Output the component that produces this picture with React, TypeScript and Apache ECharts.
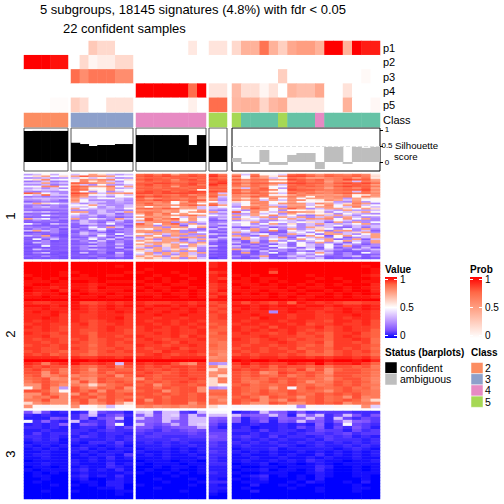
import React, { useEffect, useRef } from "react";
import * as echarts from "echarts";

const titleLine1 = "5 subgroups, 18145 signatures (4.8%) with fdr < 0.05";
const titleLine2 = "22 confident samples";
const annotationNames = ["p1", "p2", "p3", "p4", "p5"];
const classLabel = ["Class"];

const p1 = [[0,0,0,0,0],[0,0,.28,.2,.2,0,0],[0,0,0,0,0,0,.12,0],[.14,.14],[.2,.4,.4,.7,.4,.25,.45,.5,.5,.4,1,1,.4,1,.93,.93]];
const p2 = [[1,1,1,.96,.96],[0,.2,.05,.1,.1,.2,.2],[0,0,0,0,0,0,0,0],[0,0],[0,0,0,0,0,0,0,0,0,0,0,0,0,0,0,0]];
const p3 = [[0,0,0,0,0],[.72,.58,.68,.68,.68,.58,.58],[0,0,0,0,0,0,0,0],[0,0],[0,0,0,0,0,.25,0,0,0,0,0,0,0,0,.03,0]];
const p4 = [[0,0,0,0,0],[0,0,0,0,0,0,0],[1,1,1,1,1,1,.72,1],[.14,.14],[.35,.17,.17,.05,.15,0,.38,.33,.33,.45,0,0,.15,0,0,0]];
const p5 = [[0,0,0,.02,.02],[.25,.18,0,0,.15,.15,.15],[0,0,0,0,0,0,.08,0],[.72,.72],[.37,.4,.4,.22,.37,.42,.12,.12,.12,.12,0,0,.4,0,0,.04]];
const probRows = [p1, p2, p3, p4, p5];

const classes = [[2,2,2,2,2],[3,3,3,3,3,3,3],[4,4,4,4,4,4,4,4],[5,5],[5,1,1,1,1,5,1,1,1,4,1,1,1,1,1,1]];
const classColors: Record<number, string> = { 1: "#66C2A5", 2: "#FC8D62", 3: "#8DA0CB", 4: "#E78AC3", 5: "#A6D854" };

const silhouette = [
  [.97,.97,.97,.97,.97],
  [.6,.56,.5,.53,.53,.56,.56],
  [.84,.84,.84,.84,.84,.84,.53,.84],
  [.5,.5],
  [.125,-.06,-.06,.375,-.09,-.09,.22,.28,.28,-.22,.47,.47,-.06,.47,.44,.47],
];
const silhouetteTicks = [0, 0.5, 1];
const statusColors = ["#000000", "#bebebe"];
const panelStatus = [0, 0, 0, 0, 1];

// Heatmap cells as letters, panels separated by spaces. Each group has its own reading of the letters.
const group1 = [
"hjnim jmqpjhj uvtvquvu wt qjtnmkuvtrutsuso",
"mpqmp qvrsqmn vwvwvvwv xv vmvqorwwvtvuuvtp",
"ghjgh jnjmjgh uvvuvvuv vu rnsqjmutqqstuquo",
"npslm osqssmp vwvvsvwu wv vsuuqqwvuvstwvvq",
"fgjfg msoqjgm tvuvtuvv vw sqtsnntvtuqtsjtr",
"jjqhj vusqqjm vvwwvvwv wx vtvvtswwvvsvwvwu",
"ggifg qjgmhgj vwuvuvwt xv uqutqjuvutstuvuq",
"mnssn vuqqtnq uvuvqvuv vu tsusmmvuvusvwvvt",
"hjgjg usmnqhj vvuvvuvv vv qjtvnhvuttqtusvq",
"jljjm vuonqmm uvvuvvun uu vtuvsnwvvutuvvws",
"gfhgg smgmgjm vwvwuvww wv uqusnmtutrsttjuq",
"vsmjg wvqjqqs wwvwwwwv uj vuvuqjvsutsuvtus",
"mjujj usmmjmj utvutvsu uq sqsumnqtrqrqsnpr",
"fgfgf tqhjgmm wvwvuvvs vj ssvtqqtrnsrstntq",
"ijjij qjjmnjh uqsutsuq qh qpqmsmrmqqqrhqpn",
"ggigd smgggjg vuwvvuvv sg tqtjqjssnosqjqmn",
"dfgfe qmjjgih tssunqvq mj pnrsmnqmnmphgrhm",
"jqpmj jgjgghg tvrsmtsm tj jmtsmrsrjsqjptqg",
"fgegf mnqjggj sutsrtvs vq inqsjjqqjosmqrjm",
"ehjge kjmgjgj qnqrmqrj jm grtrqgrsnqrmjtnj",
"ggggg qmjhihn uvtvuqqj ji mqvsmqvrgjqqpmqp",
"eddde gggjgfg rrsqrmnr gf jgrqmgmnpnjhqhhj",
"jhjgf rqgjgjq tutqsnqt qj vnsmjqtrqogmjpqn",
"dedcd mjgjjdg ququmqnm hg ghqjmgqmpnpgnjhg",
"gfmgf jgjfigh mtqsrsuq mj qjqmsjngfqjqjgmn",
"cddcd hggdgcf qrsqnjqj gh gmjqgqjqgjqgqjgh",
"qjmfg qgnjgqj mvqtvmrm ej qpmjqmqjrqsmrmqg",
"dgegc ejgfdje qvsqrnqm cd gjjggjjgjjhmjggg",
"ccdcc gjgdjgd jqstgqgj fg mnqgnmjnpjdqgqgm",
"mgcjg djjgmfg vqmsvhqg gj jmgmqgpgjqjhjmqg",
"dccdc dcgfdgc srgqqdmp gd jnjgjjmgjgjngjhj",
"gfgdg cgmgqje qqqgrqmq cj dcgjcgjgqpjddjej",
"cgdgb gdjmfdg pmqrnpgd jd jgqgmgqgjpmgmgqg",
"jqjgd dfcjcgg rqgqsgfg eg jmrgsdnjmqfqrgjd",
"bcdgc cjgdcdg qsrqqgrm cc qjgcdcjmgmqgjpqg",
"dfcdb fjgjdmg mjqjqqgg jg gfjmdgqjmfqqjgmq",
"jgqcb egdmgcj qrngrghq ec qgdqjfgdqmcnqmjq",
"cdggc cdjgcjd gpqqjqqg cj jqmgjqdmjqgndgjq",
"cmcjd gfmfjdg jqgqrdjq jf dqjgmjgqmjqdgqcj",
"dcgbc cgdjdgd qpjqqgjg gc gcjdqgmgjmqmqjgq",
"cjgcd dfjgcgd mqrqjqgq db jcqdjnemgqgjdmfq",
"bcgcc cdcgdjc qjqpqmqp cc dgdgcjdnjgmcjgcg",
"dcmcd egjgdfd pqgpqgqj jc jdgcmjdnjgmgqdgg",
"bcbcc cgcdcjb jgqjqjpg cb gcdgcmjdjcmcgdjc",
"cjgcd dgjgdcg qpqjpqmg gc qjgdjgdjmfjgdjgj",
"bcbcc bdcfcdc pjqgqgqf bb cgbjdgcgdjgcbcdg",
"cgjcb cjdgbjc mqgqjqjq ec dqcgmdgmjqjdgcmg",
"bcbbc cbcdcgb jqjqgqjg bb cdcgbcgjgmgcgcbd",
"dcgcb cdfcdgc qpqgpqpg cb gcgqcgjgjgcdgjcg",
"bcbcb bcbfbcb pqpjqgqj ab cbcjcbgjgjbcbdbc",
];

const group2 = [
"zzzzz zzzzzzz zzzzzzzz xy zzzzzzzzzzzzzzzz",
"zzzzz zzzzzyz zzzzzzzz xy zzzzzzzzzzzzzzyz",
"zzzzz zzzzzzz zyzzzzzz yy zzzzyzzzzzzzzzzy",
"zzzzy yzzzzzy yzzzyzzz wx zzzzvzzzzzzzzzzy",
"yzzzy zyzzyyz zzyzzyzz xy yzyzzzzzyzzzzzyx",
"zyzyz yyyzzzz zyzyzzyz xw zyzyyzzzzyzyzzzy",
"yyyzy zzyzyyy yzzyzyzz xy yyzyzyzzyzzzyzyy",
"yzzyy yyxyzzz zyyzyyzz wx zyyzyzzyzyzyzzzx",
"zyyxy yyxzyyy yzyyzzyz wx yzyyyzyzyyzzyzyx",
"zyyzx zyxyyyz zyzyzyzy wy yyyzyyzyzzyzyzzx",
"yxyyz yzyyzyy yyyzyyzy xw zyzyzyyzyyzyzyzy",
"yyzyy zyyzyyz zzyzzyzy wy yyyyzyzyyzzyzyyx",
"zzzzz zzzzzzz zzzzzzzz yy zzzzzzzyzzzzzzzz",
"xwwxx yvvwxwx xwwwxxwx vw xvxwvxuyxwxwvvww",
"yyyxy yxwxyxy yxyyxyxy wv yyxyxyyxyyxyxxyx",
"xxyxx yxwxyxx xyxxyxyx vw xyxyxxyyxxwxyxyx",
"xyxyx xxwxxyx yxxyxxyx wv yxxxgxyxxwxxyxxw",
"xxxyw xwwxxxw xxyxxyxx vw xxyxxxwxxwwxxyxw",
"xxyxw xwwxxyw xxwxxwxx vw xxwyxxwxxwwxwxxw",
"xwxxw xwvwxxw xwxxwxxw vv xwxxxwxxwwvxxwxv",
"wxxww wxvwwxw xxwxwxwx uv wxxwxxwxvwwxwwxv",
"xwxwv wwvwxww wxxwxwxw vu xwwxvxxwwxvwxwwv",
"wwxwv wvvwxwv wxwwxwwx uu xwxwxwxwvwvwxwwu",
"xwwvw wvuwwwv wwxwxwwx tv wxwwvwxvwvuwwxvu",
"wwxvv wwuwwvw xwwwxvxw uu wwwxwwwvvwuwxwvu",
"wvwwv vwuvwwv wxwvwwwx tu xwvwxwvwvvuwwxwt",
"wwvwv wvuvwvw wwxwvxww ts wwvwwxwvvwtwwvwt",
"vwwvw vvtvwvv xwwvwwxw us wvwwvwwvuvtwwwvu",
"wwvvw wvuvvwv wvwwxvww ts vwwvwvwuvvuwvwvt",
"vwvvu vvtvwvw wwvxwwxw sr wvwvwwvwuvtvwvwu",
"wvwuv vutvvvv vwxwvwwv tq vwvwwvwvuutvwvvt",
"xxxxw xwwxxwx xxxwxxxx qr xxwxxwxxwxwxxwxv",
"zzzzz zzyzzzz zzzzzzzz ss zyzzyzzzzzyzzyzx",
"xwswx ywwxwjw xwxxvsqw gh wywxwwyxwzwxxywu",
"wvwvv vutvwsv wvwvwwvw qp vwvwuwvvuvtvvuvs",
"vwuvs vuqvvuu wvvwvwvw pq wvwvuvuwsvquvvut",
"vvqvs vtsvtvv vwvuvwvv qr vuvqswvuvuqvvvus",
"uvqsu rtsuvqu wvuvvwvv qp vuvutvsuvtsvvuus",
"tuvqr urqvuut qvuvvvwv ps vtutvuvuutquvvtr",
"suvts qvqvuvu vuvuvwvu ps vtsuvtvuqtsvuvur",
"qqvtq sqpqtuv uvquvvuv pn uvtutuvtustvuvts",
"nqvqh vsqutvq vvtvuvvq gh vutuqumtvutuvtur",
"vvuqn vtvqvts uvvquvvq tt vutvtuvtutquvuts",
"qqvsq qvsuvuv vvuvuvuv uu vtuvutvutvuvuvts",
"qtsvq vuvsvut uvvtvvuv rs uvtqvuuquvtuqvrs",
"ssvqq uvquvtv vqvuvvuv tq vuvqtqvtuvtuvuqp",
"pqsqq svqsvqp vuvuvvqu ts vtqqvuqquvuvqtsr",
"qnmnn qmnpjmn rsqrsqrs pm mnmmnnmgnmmnnmqk",
];

const group3 = [
"gjfcd cdkfeec jkfjjedj mm cdejhgdgdeeeeddd",
"dcdcc dhjdfhd hjgjkgjh jj jghhjhcjhjdfjgdg",
"cccgf dhcfgjc jhgjigjj hg hcfgdhghjhdjfdfe",
"mdhdc jdedgec hhgjhgjj gf hcehcgfjfgdhjhge",
"cdcdh cgfdgmc jgfhigjk fd ccdccdcdchcemfed",
"ddcdc cddcfdf ggefghhi ec cdbccdcfdgcfdgec",
"ccdcc ddcdedd fedfefgf ee ddcecddcdfeecfde",
"cecdd dcdcddc edeeeefe ff ccdcddcdeedefdee",
"ddcdc cedcdcd deedddee gf dedcecddcdedecdc",
"cdcdb dcccdcd ddddeddd ff cdcdcdccdcedddcd",
"bcccb cbddcec cdcdcdcc ed dcdcdccdcdcdcdcd",
"cbcbc bccbcdb cccdccdc ed cdcccdcbcdccdcdc",
"bcbcb cdbcbcc bcccbcbc dd bcccdbcccccbcdcb",
"bbcbb cbcbccb cbbcbcbc ed cbcbcbbcbcbcbcbc",
"bccbb bcbccbe bcbcbbcb dd bcbbcbcbbdbcbcbc",
"bbcbb bbcbdbc bbbcbbbc dc bbcbbcbbcbcbbcbb",
"abbbb cbcbcbb abbbabba dc bcbbcbcbdcbbabbc",
"bbcbb cbbbdbc babbbabb dd abbcabbabcbabbbb",
"abbab bcbbdcb aababbab cc baabbabbbdcaabab",
"babbb cdbcbdb abaabaab cc abbcabbabdbaabab",
"ababa bcbbbbc baababab dc baabbbaabcbaabbb",
"abbaa cdbcbdb aaaabaaa cc abcdababacbaabba",
"aabaa bcaabcb aabaaaba cb babcaaabacaaaaba",
"abaaa abbaccb aaabaaab dd abbbaabacbaabaca",
"aaaba babacca baaaaaba cb aacaababaaaaabaa",
"aaaaa aaabbca aabaaaaa cc abaaaabaabaaabba",
"aabaa baaaabb aaaaabaa cb aacaaaaaabaaabaa",
"aaaaa aaaaaba aaaaaaaa ba aaaaaaaaaaaaaaaa",
"aaaaa aaaaaaa aaaaaaaa aa aaaaaaaaaaaaaaaa",
];

const rowGroupNames = ["1", "2", "3"];
const valueLegendTicks = ["1", "0.5", "0"];
const statusLegend = ["confident", "ambiguous"];
const classLegend = [2, 3, 4, 5];

const valueRamp = ["#0000ff", "#7E51FF", "#B28BFF", "#DCC4FF", "#ffffff", "#FFCFC0", "#FF9E81", "#FF6846", "#ff0000"];
const probRamp = ["#ffffff", "#FFCFC0", "#FF9E81", "#FF6846", "#ff0000"];

const FONT = "'Liberation Sans', Arial, sans-serif";
const panels = [
  { left: 24, right: 68 },
  { left: 71, right: 133 },
  { left: 136, right: 206 },
  { left: 209, right: 227 },
  { left: 232, right: 380 },
];
const bands = {
  anno: { top: 41, bottom: 112 },
  cls: { top: 113, bottom: 127 },
  sil: { top: 128, bottom: 171 },
  g1: { top: 174, bottom: 259 },
  g2: { top: 262, bottom: 408 },
  g3: { top: 411, bottom: 499 },
};

const letter = (ch: string) => (ch.charCodeAt(0) - 97) / 25;
const readGroup1 = (ch: string) => {
  const v = letter(ch);
  if (v < 0.2) return 0.1 + v * 0.5;
  return v > 0.6 ? 1 - (1 - v) * 0.7 : v;
};
const readGroup2 = (ch: string) => {
  const v = letter(ch);
  return v > 0.6 ? 1 - (1 - v) * 0.6 : v;
};
const readGroup3 = (ch: string) => {
  const v = letter(ch);
  return v < 0.32 ? v * 0.55 : v;
};

function buildOption() {
  const grid: any[] = [];
  const xAxis: any[] = [];
  const yAxis: any[] = [];
  const series: any[] = [];
  const valueSeries: number[] = [];
  const probSeries: number[] = [];
  const classSeries: number[] = [];

  const addGrid = (pi: number, band: { top: number; bottom: number }, extra: any = {}) => {
    const pn = panels[pi];
    const idx = grid.length;
    grid.push({
      left: pn.left,
      top: band.top,
      width: pn.right - pn.left,
      height: band.bottom - band.top,
      containLabel: false,
      ...extra,
    });
    return idx;
  };

  const catX = (idx: number, n: number) =>
    xAxis.push({
      type: "category",
      gridIndex: idx,
      data: Array.from({ length: n }, (_, i) => String(i)),
      show: false,
    });
  const heat = (idx: number, data: number[][]) => ({
    type: "heatmap",
    xAxisIndex: idx,
    yAxisIndex: idx,
    data,
    silent: true,
    progressive: 0,
    itemStyle: { borderWidth: 0 },
  });

  panels.forEach((pn, pi) => {
    const n = classes[pi].length;
    // probability annotation
    let g = addGrid(pi, bands.anno);
    catX(g, n);
    yAxis.push({
      type: "category",
      gridIndex: g,
      inverse: true,
      data: annotationNames,
      position: "right",
      axisLine: { show: false },
      axisTick: { show: false },
      axisLabel: { show: pi === 4, interval: 0, fontFamily: FONT, fontSize: 11, color: "#000", margin: 3 },
    });
    const annoData: number[][] = [];
    probRows.forEach((row, ri) => row[pi].forEach((v, c) => annoData.push([c, ri, v])));
    probSeries.push(series.length);
    series.push(heat(g, annoData));

    // class annotation
    g = addGrid(pi, bands.cls);
    catX(g, n);
    yAxis.push({
      type: "category",
      gridIndex: g,
      data: classLabel,
      position: "right",
      axisLine: { show: false },
      axisTick: { show: false },
      axisLabel: { show: pi === 4, interval: 0, fontFamily: FONT, fontSize: 11, color: "#000", margin: 3 },
    });
    classSeries.push(series.length);
    series.push(heat(g, classes[pi].map((v, c) => [c, 0, v])));

    // silhouette bars
    g = addGrid(pi, bands.sil, { show: true, borderColor: pi === 4 ? "#000" : "#555", borderWidth: 1, backgroundColor: "transparent" });
    catX(g, n);
    yAxis.push({
      type: "value",
      gridIndex: g,
      min: -0.28,
      max: 1.06,
      position: "right",
      show: pi === 4,
      splitLine: { show: false },
      axisLine: { show: false },
      axisTick: { show: pi === 4, length: 3, customValues: silhouetteTicks, lineStyle: { color: "#000" } },
      axisLabel: {
        show: pi === 4,
        customValues: silhouetteTicks,
        fontFamily: FONT,
        fontSize: 8,
        color: "#000",
        margin: 7,
        align: "center",
        formatter: (v: number) => String(v),
      },
    });
    const barColor = statusColors[panelStatus[pi]];
    series.push({
      type: "bar",
      xAxisIndex: g,
      yAxisIndex: g,
      barWidth: (pn.right - pn.left) / n + 0.7,
      barGap: "-100%",
      silent: true,
      data: silhouette[pi],
      itemStyle: { color: barColor },
      markLine:
        pi === 4
          ? {
              silent: true,
              symbol: "none",
              label: { show: false },
              lineStyle: { type: "dashed", color: "#dedede", width: 1 },
              data: [{ yAxis: 0.5 }],
            }
          : undefined,
    });

    // expression heatmaps
    const groups = [
      { rows: group1, band: bands.g1, read: readGroup1 },
      { rows: group2, band: bands.g2, read: readGroup2 },
      { rows: group3, band: bands.g3, read: readGroup3 },
    ];
    groups.forEach(({ rows, band, read }) => {
      const gi = addGrid(pi, band);
      catX(gi, n);
      yAxis.push({
        type: "category",
        gridIndex: gi,
        inverse: true,
        data: rows.map((_, i) => String(i)),
        show: false,
      });
      const data: number[][] = [];
      rows.forEach((r, ri) => {
        const cells = r.split(" ")[pi];
        for (let c = 0; c < cells.length; c++) data.push([c, ri, read(cells[c])]);
      });
      valueSeries.push(series.length);
      series.push(heat(gi, data));
    });
  });

  const txt = (text: string, x: number, y: number, size: number, extra: any = {}) => ({
    type: "text",
    x,
    y,
    silent: true,
    style: { text, fill: "#000", font: `${extra.bold ? "bold " : ""}${size}px ${FONT}`, textVerticalAlign: "middle", textAlign: extra.align || "left" },
    ...(extra.rotation ? { rotation: extra.rotation } : {}),
  });

  const stopsOf = (ramp: string[]) =>
    ramp.map((color, i) => ({ offset: 1 - i / (ramp.length - 1), color })).reverse();

  const colourBar = (x: number, ramp: string[]) => {
    const top = 277;
    const h = 61;
    const w = 12;
    const tickYs = [279, 307, 335];
    const items: any[] = [
      {
        type: "rect",
        shape: { x, y: top, width: w, height: h },
        silent: true,
        style: { fill: new echarts.graphic.LinearGradient(0, 0, 0, 1, stopsOf(ramp)) },
      },
    ];
    tickYs.forEach((ty) => {
      items.push({ type: "line", silent: true, shape: { x1: x, y1: ty + 0.5, x2: x + 3, y2: ty + 0.5 }, style: { stroke: "#ffffff", lineWidth: 1 } });
      items.push({ type: "line", silent: true, shape: { x1: x + w - 3, y1: ty + 0.5, x2: x + w, y2: ty + 0.5 }, style: { stroke: "#ffffff", lineWidth: 1 } });
    });
    valueLegendTicks.forEach((t, i) => items.push(txt(t, x + 15, tickYs[i], 10)));
    return items;
  };

  const graphicElements: any[] = [
    txt(titleLine1, 40, 9.5, 13),
    txt(titleLine2, 63, 28.5, 13),
    txt("Silhouette", 395, 145, 9.7),
    txt("score", 394, 156, 9.7),
    txt(rowGroupNames[0], 10, 216, 13.2, { rotation: Math.PI / 2, align: "center" }),
    txt(rowGroupNames[1], 10, 334, 13.2, { rotation: Math.PI / 2, align: "center" }),
    txt(rowGroupNames[2], 10, 454, 13.2, { rotation: Math.PI / 2, align: "center" }),
    txt("Value", 385, 269, 10, { bold: true }),
    txt("Prob", 470, 269, 10, { bold: true }),
    ...colourBar(385, valueRamp),
    ...colourBar(470, probRamp),
    txt("Status (barplots)", 385, 352, 10, { bold: true }),
    txt("Class", 471, 352, 10, { bold: true }),
  ];
  statusLegend.forEach((s, i) => {
    graphicElements.push({
      type: "rect",
      silent: true,
      shape: { x: 385, y: 362 + i * 11.5, width: 12, height: 11.5 },
      style: { fill: statusColors[i], stroke: "#fff", lineWidth: 0.5 },
    });
    graphicElements.push(txt(s, 400, 367.5 + i * 11.5, 10.5));
  });
  classLegend.forEach((c, i) => {
    graphicElements.push({
      type: "rect",
      silent: true,
      shape: { x: 471, y: 362.5 + i * 11.2, width: 12, height: 11.2 },
      style: { fill: classColors[c], stroke: "#fff", lineWidth: 0.5 },
    });
    graphicElements.push(txt(String(c), 485, 367.5 + i * 11.4, 10.5));
  });

  return {
    animation: false,
    backgroundColor: "#ffffff",
    textStyle: { fontFamily: FONT },
    grid,
    xAxis,
    yAxis,
    visualMap: [
      { type: "continuous", show: false, min: 0, max: 1, dimension: 2, seriesIndex: valueSeries, inRange: { color: valueRamp } },
      { type: "continuous", show: false, min: 0, max: 1, dimension: 2, seriesIndex: probSeries, inRange: { color: probRamp } },
      {
        type: "piecewise",
        show: false,
        dimension: 2,
        seriesIndex: classSeries,
        pieces: Object.keys(classColors).map((k) => ({ value: Number(k), color: classColors[Number(k)] })),
      },
    ],
    series,
    graphic: { elements: graphicElements },
  };
}

export default function App() {
  const ref = useRef<HTMLDivElement>(null);
  useEffect(() => {
    document.body.style.margin = "0";
    const chart = echarts.init(ref.current!, undefined, { renderer: "svg" });
    chart.setOption(buildOption() as any);
    return () => chart.dispose();
  }, []);
  return <div ref={ref} style={{ width: 504, height: 504 }} />;
}
